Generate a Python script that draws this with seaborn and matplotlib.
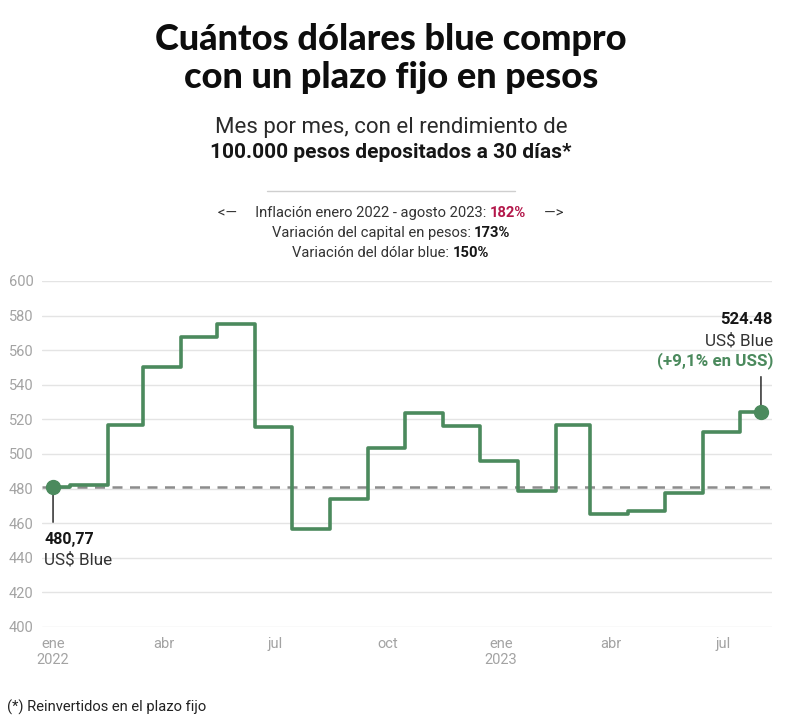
import matplotlib
matplotlib.use('Agg')
import matplotlib.pyplot as plt
from matplotlib.lines import Line2D
import pandas as pd
import seaborn as sns

# Data: value of the deposit in blue dollars, month by month
fechas = ['2022-01-01', '2022-01-15', '2022-02-15', '2022-03-15', '2022-04-15',
          '2022-05-15', '2022-06-15', '2022-07-15', '2022-08-15', '2022-09-15',
          '2022-10-15', '2022-11-15', '2022-12-15', '2023-01-15', '2023-02-15',
          '2023-03-15', '2023-04-15', '2023-05-15', '2023-06-15', '2023-07-15',
          '2023-08-01']
dolares = [480.77, 481.8, 516.5, 550.5, 567.5,
           575.0, 515.5, 456.5, 474.0, 503.5,
           523.5, 516.0, 496.0, 478.5, 516.5,
           465.5, 467.0, 477.5, 513.0, 524.48,
           524.48]

tick_fechas = ['2022-01-01', '2022-04-01', '2022-07-01', '2022-10-01',
               '2023-01-01', '2023-04-01', '2023-07-01']
tick_labels = ['ene\n2022', 'abr', 'jul', 'oct', 'ene\n2023', 'abr', 'jul']
y_ticks = list(range(400, 601, 20))

GREEN = '#4b8a5d'
RED = '#b3174a'
GRAY = '#a3a3a3'
INK = '#161616'

df = pd.DataFrame({'fecha': pd.to_datetime(fechas), 'usd': dolares})

sns.set_style('white')
plt.rcParams['font.family'] = ['Roboto', 'DejaVu Sans']

W, H = 800, 723
fig = plt.figure(figsize=(W / 100, H / 100), dpi=100)
ax = fig.add_axes([42 / W, 1 - 627 / H, (772 - 42) / W, (627 - 281) / H])

# reference line at the starting value
ax.axhline(dolares[0], color='#8c8c8c', lw=1.8, ls=(0, (4, 3)), zorder=2)

sns.lineplot(data=df, x='fecha', y='usd', drawstyle='steps-post',
             color=GREEN, lw=2.6, ax=ax, zorder=3)
ends = df.iloc[[0, -1]]
ax.plot(ends['fecha'], ends['usd'], 'o', color=GREEN, ms=10, zorder=4)

ax.set_ylim(400, 600)
ax.set_xlim(pd.Timestamp('2021-12-23'), pd.Timestamp('2023-08-10'))
ax.set_yticks(y_ticks)
ax.set_xticks(pd.to_datetime(tick_fechas))
ax.set_xticklabels(tick_labels)
ax.grid(axis='y', color='#e4e4e4', lw=1)
ax.grid(axis='x', visible=False)
ax.tick_params(length=0, colors=GRAY, labelsize=10.5)
ax.tick_params(axis='x', pad=7)
ax.tick_params(axis='y', pad=6)
ax.set_xlabel('')
ax.set_ylabel('')
sns.despine(ax=ax, left=True, bottom=True)

# start / end annotations
x0, y0 = df['fecha'].iloc[0], df['usd'].iloc[0]
x1, y1 = df['fecha'].iloc[-1], df['usd'].iloc[-1]
ax.annotate('', xy=(x0, y0), xytext=(0, -35), textcoords='offset pixels',
            arrowprops=dict(arrowstyle='-', color=INK, lw=1, shrinkA=0, shrinkB=0))
ax.annotate('480,77', xy=(x0, y0), xytext=(-9, -52), textcoords='offset pixels',
            ha='left', va='center', fontsize=11.5, fontweight='bold', color=INK)
ax.annotate('US$ Blue', xy=(x0, y0), xytext=(-9, -72), textcoords='offset pixels',
            ha='left', va='center', fontsize=12.3, color='#333333')

ax.annotate('', xy=(x1, y1), xytext=(0, 35), textcoords='offset pixels',
            arrowprops=dict(arrowstyle='-', color=INK, lw=1, shrinkA=0, shrinkB=0))
ax.annotate('(+9,1% en USS)', xy=(x1, y1), xytext=(12, 51), textcoords='offset pixels',
            ha='right', va='center', fontsize=12.2, fontweight='bold', color=GREEN)
ax.annotate('US$ Blue', xy=(x1, y1), xytext=(12, 71), textcoords='offset pixels',
            ha='right', va='center', fontsize=12.3, color='#333333')
ax.annotate('524.48', xy=(x1, y1), xytext=(12, 92), textcoords='offset pixels',
            ha='right', va='center', fontsize=12, fontweight='bold', color=INK)

# titles
CX = 391 / W
fig.text(CX, 1 - 40 / H, 'Cuántos dólares blue compro', ha='center', va='center',
         fontsize=26, fontweight='black', family=['Lato', 'DejaVu Sans'], color='#0d0d0d')
fig.text(CX, 1 - 77 / H, 'con un plazo fijo en pesos', ha='center', va='center',
         fontsize=26, fontweight='black', family=['Lato', 'DejaVu Sans'], color='#0d0d0d')
fig.text(CX, 1 - 128 / H, 'Mes por mes, con el rendimiento de', ha='center', va='center',
         fontsize=16, color='#2a2a2a')
fig.text(CX, 1 - 152 / H, '100.000 pesos depositados a 30 días*', ha='center', va='center',
         fontsize=15, fontweight='bold', color=INK)

fig.add_artist(Line2D([267 / W, 515 / W], [1 - 191 / H] * 2, color='#cfcfcf', lw=1))

renderer = fig.canvas.get_renderer()


def rich_line(y_px, parts, size=10.6):
    texts = [fig.text(0, 1 - y_px / H, s, fontsize=size, fontweight=w, color=c,
                      ha='left', va='center') for s, w, c in parts]
    widths = [t.get_window_extent(renderer).width for t in texts]
    x = 391 - sum(widths) / 2
    for t, wd in zip(texts, widths):
        t.set_x(x / W)
        x += wd


rich_line(213, [('<—     Inflación enero 2022 - agosto 2023: ', 'normal', '#333333'),
                ('182%', 'bold', RED),
                ('     —>', 'normal', '#333333')])
rich_line(233, [('Variación del capital en pesos: ', 'normal', '#333333'),
                ('173%', 'bold', INK)])
rich_line(253, [('Variación del dólar blue: ', 'normal', '#333333'),
                ('150%', 'bold', INK)])

fig.text(7 / W, 1 - 707 / H, '(*) Reinvertidos en el plazo fijo', ha='left', va='center',
         fontsize=10.6, color='#222222')

fig.savefig('out.png', dpi=100)
